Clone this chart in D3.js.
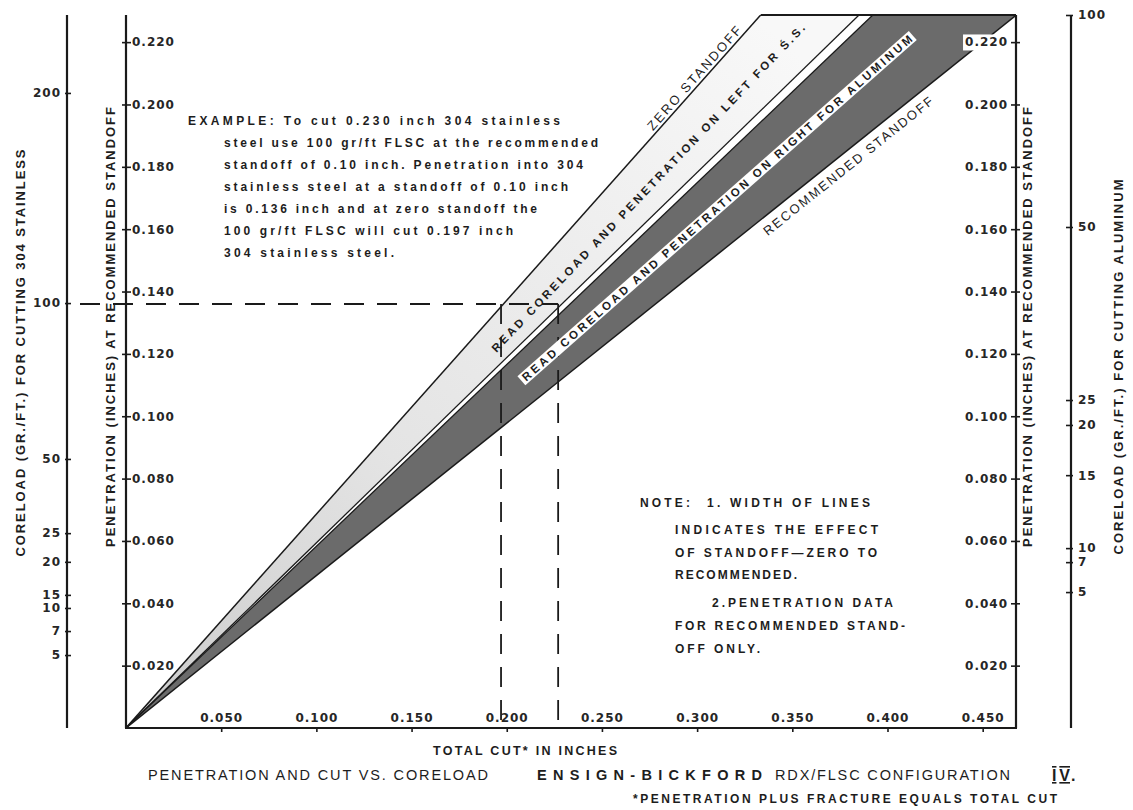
<!DOCTYPE html>
<html><head><meta charset="utf-8">
<script src="https://cdn.jsdelivr.net/npm/d3@7"></script>
<style>
body{margin:0;background:#fff;}
svg{display:block;}
text{font-family:"Liberation Sans",Arial,sans-serif;fill:#1d1d1d;}
.tk{font-family:"DejaVu Sans",sans-serif;font-weight:bold;font-size:12px;fill:#262626;letter-spacing:1px;}
</style></head><body>
<svg id="chart" width="1133" height="810"></svg>
<script>
// ---------------- DATA ----------------
const penTicks = [0.020,0.040,0.060,0.080,0.100,0.120,0.140,0.160,0.180,0.200,0.220];
const penTickLabels = ["0.020","0.040","0.060","0.080","0.100","0.120","0.140","0.160","0.180","0.200","0.220"];
const cutTicks = [0.050,0.100,0.150,0.200,0.250,0.300,0.350,0.400,0.450];
const cutTickLabels = ["0.050","0.100","0.150","0.200","0.250","0.300","0.350","0.400","0.450"];
// coreload (gr/ft) for 304 stainless, and the penetration each one sits at
const coreloadSS = [5,7,10,15,20,25,50,100,200];
const coreloadSSLabels = ["5","7","10","15","20","25","50","100","200"];
const coreloadSSPen = [0.0234,0.0311,0.0385,0.0427,0.0533,0.0625,0.0863,0.1363,0.2037];
// coreload (gr/ft) for aluminum, and the penetration each one sits at
const coreloadAl = [5,7,10,15,20,25,50,100];
const coreloadAlLabels = ["5","7","10","15","20","25","50","100"];
const coreloadAlPen = [0.0436,0.0532,0.0577,0.0811,0.0972,0.1052,0.1607,0.2287];
// boundary lines: penetration per inch of total cut
const bandLines = ["Zero standoff S.S.","Recommended standoff S.S.","Zero standoff Al","Recommended standoff Al"];
const bandSlopes = [0.686,0.594,0.583,0.489];
const penMax = 0.2287;   // top of the penetration axes
const cutMax = 0.4675;   // right edge of the cut axis
// worked example
const exPen = 0.136, exCutZero = 0.197, exCutRec = 0.227;

const exampleLines = ["EXAMPLE: To cut 0.230 inch 304 stainless",
 "steel use 100 gr/ft FLSC at the recommended",
 "standoff of 0.10 inch.  Penetration into 304",
 "stainless steel at a standoff of 0.10 inch",
 "is 0.136 inch and at zero standoff the",
 "100 gr/ft FLSC will cut 0.197 inch",
 "304 stainless steel."];
const noteLines = ["NOTE:","1. WIDTH OF LINES","INDICATES THE EFFECT","OF STANDOFF\u2014ZERO TO","RECOMMENDED.",
 "2.PENETRATION DATA","FOR RECOMMENDED STAND-","OFF ONLY."];

// ---------------- LAYOUT ----------------
const svg = d3.select("#chart");
const x = d3.scaleLinear().domain([0,cutMax]).range([126,1016]);
const y = d3.scaleLinear().domain([0,penMax]).range([728,15]);
const coreSSScale = d3.scaleLinear().domain(coreloadSS).range(coreloadSSPen.map(y));
const coreAlScale = d3.scaleLinear().domain(coreloadAl).range(coreloadAlPen.map(y));
const xL = 67, xR = 1071;

const defs = svg.append("defs");
defs.append("clipPath").attr("id","plotClip").append("rect")
  .attr("x",x(0)).attr("y",y(penMax)).attr("width",x(cutMax)-x(0)).attr("height",y(0)-y(penMax));
const lg = defs.append("linearGradient").attr("id","lightGrad").attr("gradientUnits","userSpaceOnUse")
  .attr("x1",x(0)).attr("y1",y(0)).attr("x2",x(0.33)).attr("y2",y(0.2287));
lg.append("stop").attr("offset",0).attr("stop-color","#cbcbcb");
lg.append("stop").attr("offset",0.4).attr("stop-color","#e4e4e4");
lg.append("stop").attr("offset",1).attr("stop-color","#f8f8f8");

const line = d3.line().x(d=>x(d[0])).y(d=>y(d[1]));
const plot = svg.append("g").attr("clip-path","url(#plotClip)");

// bands
const bandPoly = (s1,s2)=>[[0,0],[penMax/s1,penMax],[penMax/s2,penMax]];
plot.append("path").attr("d",line(bandPoly(bandSlopes[0],bandSlopes[1]))+"Z").attr("fill","url(#lightGrad)");
plot.append("path").attr("d",line(bandPoly(bandSlopes[1],bandSlopes[2]))+"Z").attr("fill","#ffffff");
plot.append("path").attr("d",line(bandPoly(bandSlopes[2],bandSlopes[3]))+"Z").attr("fill","#6b6b6b");
plot.selectAll("path.bl").data(bandSlopes).enter().append("path").attr("class","bl")
  .attr("d",s=>line([[0,0],[penMax/s,penMax]]))
  .attr("stroke","#1a1a1a").attr("stroke-width",(s,i)=>i===0||i===3?1.5:1.3).attr("fill","none");
// top edge
svg.append("path").attr("d",line([[penMax/bandSlopes[0],penMax],[cutMax,penMax]]))
  .attr("stroke","#1a1a1a").attr("stroke-width",2.2).attr("fill","none");

// frame axes lines
const axLine = (x1,y1,x2,y2,w)=>svg.append("line").attr("x1",x1).attr("y1",y1).attr("x2",x2).attr("y2",y2)
  .attr("stroke","#1a1a1a").attr("stroke-width",w||2.2);
axLine(x(0),y(0),x(0),y(penMax));
axLine(x(cutMax),y(0),x(cutMax),y(penMax));
axLine(x(0)-1,y(0),x(cutMax)+1,y(0));
axLine(xL,y(0),xL,y(penMax));
axLine(xR,y(0),xR,y(penMax));

function styleTicks(g){
  g.select(".domain").remove();
  g.selectAll(".tick text").attr("class","tk").attr("fill",null).attr("font-size",null).attr("font-family",null);
  g.selectAll(".tick line").attr("stroke","#1a1a1a").attr("stroke-width",1.6);
}
// left penetration axis
const gPL = svg.append("g").attr("transform",`translate(${x(0)},0)`)
  .call(d3.axisRight(y).tickValues(penTicks).tickFormat((d,i)=>penTickLabels[i]).tickSize(5).tickPadding(6));
styleTicks(gPL);
gPL.selectAll(".tick line").attr("x1",-4).attr("x2",5);
gPL.selectAll(".tick text").attr("x",6);

// right penetration axis
const gPR = svg.append("g").attr("transform",`translate(${x(cutMax)},0)`)
  .call(d3.axisLeft(y).tickValues(penTicks).tickFormat((d,i)=>penTickLabels[i]).tickSize(5).tickPadding(8));
styleTicks(gPR);
gPR.selectAll(".tick line").attr("x1",-5).attr("x2",4);
gPR.selectAll(".tick text").attr("x",-8);
gPR.selectAll(".tick").each(function(){
  const t = d3.select(this).select("text"); const b = t.node().getBBox();
  d3.select(this).insert("rect","text").attr("x",b.x-2).attr("y",b.y-1).attr("width",b.width+4).attr("height",b.height+2).attr("fill","#fff");
});

// bottom cut axis (labels inside)
const gB = svg.append("g").attr("transform",`translate(0,${y(0)})`)
  .call(d3.axisBottom(x).tickValues(cutTicks).tickFormat((d,i)=>cutTickLabels[i]).tickSize(4));
styleTicks(gB);
gB.selectAll(".tick line").attr("y1",-1).attr("y2",4);
gB.selectAll(".tick text").attr("y",-6).attr("dy",null);

// left coreload axis (stainless)
const gCL = svg.append("g").attr("transform",`translate(${xL},0)`)
  .call(d3.axisLeft(coreSSScale).tickValues(coreloadSS).tickFormat((d,i)=>coreloadSSLabels[i]).tickSize(4).tickPadding(6));
styleTicks(gCL);
gCL.selectAll(".tick line").attr("x1",-2).attr("x2",4);
gCL.selectAll(".tick text").attr("x",-6);

// right coreload axis (aluminum)
const gCR = svg.append("g").attr("transform",`translate(${xR},0)`)
  .call(d3.axisRight(coreAlScale).tickValues(coreloadAl).tickFormat((d,i)=>coreloadAlLabels[i]).tickSize(4).tickPadding(6));
styleTicks(gCR);
gCR.selectAll(".tick line").attr("x1",-5).attr("x2",2);
gCR.selectAll(".tick text").attr("x",7);

// example dashed lines
const dash = "20,13";
svg.append("path").attr("d",`M${xL+13},${y(exPen)}H${x(exCutRec)}`).attr("stroke","#1a1a1a").attr("stroke-width",1.8).attr("stroke-dasharray",dash).attr("fill","none");
svg.append("path").attr("d",line([[exCutZero,exPen],[exCutZero,0]])).attr("stroke","#1a1a1a").attr("stroke-width",1.8).attr("stroke-dasharray",dash).attr("fill","none");
svg.append("path").attr("d",line([[exCutRec,exPen],[exCutRec,0]])).attr("stroke","#1a1a1a").attr("stroke-width",1.8).attr("stroke-dasharray",dash).attr("fill","none");

// ---------------- TEXT ----------------
function txt(str, px, py, o){
  o = o||{};
  const t = svg.append("text").attr("x",px).attr("y",py).text(str)
    .attr("font-size",o.size||12).attr("font-weight",o.weight||"normal")
    .attr("text-anchor",o.anchor||"start");
  if(o.family) t.attr("font-family",o.family);
  if(o.len){ t.attr("textLength",o.len).attr("lengthAdjust","spacing"); }
  if(o.rot){ t.attr("transform",`rotate(${o.rot},${px},${py})`).attr("dominant-baseline","central"); }
  return t;
}
function bandText(str, cx, cy, slope, o){
  const ang = Math.atan2(y(0)-y(slope*0.1), x(0.1)-x(0))*180/Math.PI;
  const g = svg.append("g").attr("transform",`translate(${cx},${cy}) rotate(${-ang})`);
  const t = g.append("text").attr("text-anchor","middle").attr("dy","0.36em").text(str)
    .attr("font-size",o.size).attr("font-weight",o.weight||"bold").attr("font-family",o.family||null);
  if(o.len) t.attr("textLength",o.len).attr("lengthAdjust","spacing");
  if(o.box){ const b=t.node().getBBox();
    g.insert("rect","text").attr("x",b.x-3).attr("y",b.y).attr("width",b.width+6).attr("height",b.height).attr("fill","#fff"); }
}
bandText("READ CORELOAD AND PENETRATION ON LEFT FOR \u015A.S.", 648, 188, (bandSlopes[0]+bandSlopes[1])/2, {size:11.5,len:448,family:"DejaVu Sans"});
bandText("READ CORELOAD AND PENETRATION ON RIGHT FOR ALUMINUM", 717, 208, (bandSlopes[2]+bandSlopes[3])/2+0.003, {size:11.5,len:516,family:"DejaVu Sans",box:true});
bandText("ZERO STANDOFF", 694, 78, bandSlopes[0], {size:13,len:134,weight:"normal"});
bandText("RECOMMENDED STANDOFF", 848, 166, bandSlopes[3], {size:13,len:213,weight:"normal"});

// example block
const exX = [188,224,224,224,224,224,224], exLen=[372,374,359,344,313,289,170];
exampleLines.forEach((s,i)=>txt(s, exX[i], 125+i*22, {size:12,weight:"bold",family:"DejaVu Sans",len:exLen[i]}));

// note block
const nX=[640,707,675,675,675,712,675,675], nY=[507,507,534,557,579,607,630,653], nLen=[50,163,203,202,122,181,230,85];
noteLines.forEach((s,i)=>txt(s,nX[i],nY[i],{size:12,weight:"bold",family:"DejaVu Sans",len:nLen[i]}));

// axis titles
txt("CORELOAD (GR./FT.) FOR CUTTING 304 STAINLESS", 20, 353, {size:13,rot:-90,anchor:"middle",len:407,weight:"bold"}).attr("fill","#333");
txt("PENETRATION (INCHES) AT RECOMMENDED STANDOFF", 110, 327, {size:13,rot:-90,anchor:"middle",len:440,weight:"bold"}).attr("fill","#333");
txt("PENETRATION (INCHES) AT RECOMMENDED STANDOFF", 1027, 327, {size:13,rot:-90,anchor:"middle",len:440,weight:"bold"}).attr("fill","#333");
txt("CORELOAD (GR./FT.) FOR CUTTING ALUMINUM", 1118, 367, {size:13,rot:-90,anchor:"middle",len:375,weight:"bold"}).attr("fill","#333");

// bottom texts
txt("TOTAL CUT* IN INCHES", 433, 755, {size:12.5,weight:"bold",len:184});
txt("PENETRATION AND CUT VS. CORELOAD", 148, 780, {size:14.5,weight:"normal",len:340});
txt("ENSIGN-BICKFORD", 537, 780, {size:14.5,weight:"bold",family:"DejaVu Sans",len:225});
txt("RDX/FLSC CONFIGURATION", 775, 780, {size:14.5,weight:"normal",len:235});
txt("IV", 1052, 781, {size:16,weight:"bold",family:"Liberation Serif",len:18}).style("text-decoration","underline overline");
txt(".", 1071, 781, {size:16,weight:"bold"});
txt("*PENETRATION PLUS FRACTURE EQUALS TOTAL CUT", 633, 803, {size:12,weight:"bold",len:424});
</script>
</body></html>
